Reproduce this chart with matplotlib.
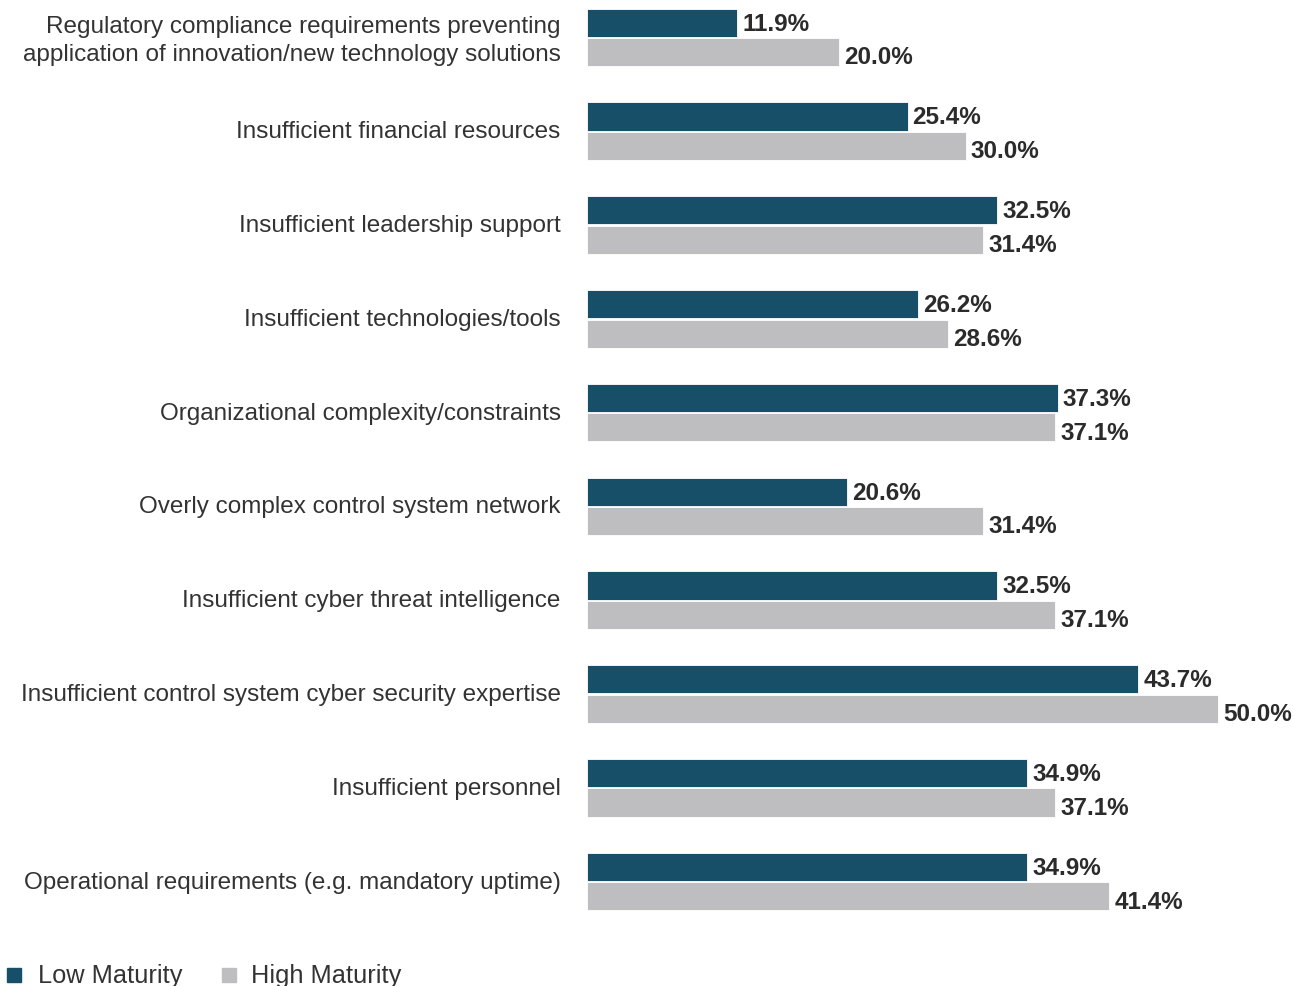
import matplotlib
matplotlib.use("Agg")
import matplotlib.pyplot as plt
from matplotlib.patches import Rectangle
from matplotlib.transforms import ScaledTranslation

categories = [
    "Regulatory compliance requirements preventing\napplication of innovation/new technology solutions",
    "Insufficient financial resources",
    "Insufficient leadership support",
    "Insufficient technologies/tools",
    "Organizational complexity/constraints",
    "Overly complex control system network",
    "Insufficient cyber threat intelligence",
    "Insufficient control system cyber security expertise",
    "Insufficient personnel",
    "Operational requirements (e.g. mandatory uptime)",
]
low_maturity = [11.9, 25.4, 32.5, 26.2, 37.3, 20.6, 32.5, 43.7, 34.9, 34.9]
high_maturity = [20.0, 30.0, 31.4, 28.6, 37.1, 31.4, 37.1, 50.0, 37.1, 41.4]
legend_labels = ["Low Maturity", "High Maturity"]

dark = "#174f69"
grey = "#bebec0"
txt = "#2b2b2b"

plt.rcParams["font.family"] = ["Liberation Sans", "DejaVu Sans"]

W, H = 1294, 987
fig = plt.figure(figsize=(W / 100, H / 100), dpi=100)
ax = fig.add_axes([587 / W, 1 - 930 / H, (W - 587) / W, 930 / H])

y = list(range(len(categories)))
off = 0.157
h = 0.30
ax.barh([v - off for v in y], low_maturity, height=h, color=dark,
        edgecolor="white", linewidth=0.6)
ax.barh([v + off for v in y], high_maturity, height=h, color=grey,
        edgecolor="white", linewidth=0.6)

for i in y:
    ax.text(low_maturity[i] + 0.4, i - off + 0.005, f"{low_maturity[i]:.1f}%",
            va="center", ha="left", fontsize=17.5, fontweight="bold", color=txt)
    ax.text(high_maturity[i] + 0.4, i + off + 0.05, f"{high_maturity[i]:.1f}%",
            va="center", ha="left", fontsize=17.5, fontweight="bold", color=txt)

ax.set_xlim(0, (W - 587) / 12.62)
ax.set_ylim(9.505, -0.41)
ax.set_yticks(y)
ax.set_yticklabels(categories, fontsize=17.5, color="#333333", linespacing=1.32)
ax.tick_params(axis="y", length=0, pad=19)
shift = ScaledTranslation(0, 2.5 / 100, fig.dpi_scale_trans)
for lab in ax.get_yticklabels():
    lab.set_transform(lab.get_transform() + shift)
ax.set_xticks([])
for s in ax.spines.values():
    s.set_visible(False)

# legend drawn by hand to match the reference placement
for (sx, tx), col, lab in zip([(7, 38), (222, 251)], [dark, grey], legend_labels):
    fig.add_artist(Rectangle((sx / W, 1 - 983 / H), 14 / W, 14 / H,
                             transform=fig.transFigure, color=col))
    fig.text(tx / W, 1 - 976 / H, lab, fontsize=18.3, color="#333333",
             va="center", ha="left")

fig.savefig("out.png", dpi=100)
